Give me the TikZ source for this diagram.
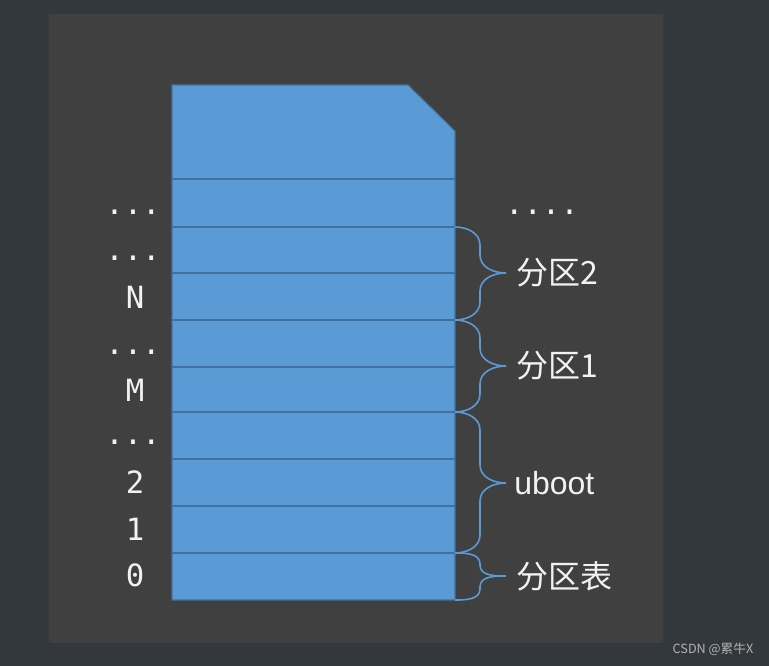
\documentclass[tikz,border=0pt]{standalone}
\usepackage{fontspec}
\setmainfont{Liberation Sans}
\newfontfamily\cjk{Noto Sans CJK SC}
\newfontfamily\mono{DejaVu Sans Mono}
\definecolor{outerbg}{HTML}{33383C}
\definecolor{panelbg}{HTML}{404040}
\definecolor{cardblue}{HTML}{5B9BD5}
\definecolor{rowline}{HTML}{41719C}
\definecolor{labelwhite}{HTML}{F2F2F2}
\tikzset{
  card/.style={fill=cardblue, draw=rowline, line width=0.8pt},
  rowsep/.style={draw=rowline, line width=0.8pt},
  partbrace/.style={draw=cardblue, line width=1.2pt},
  addr/.style={anchor=base, text=labelwhite, font=\mono\fontsize{23}{26}\selectfont},
  part/.style={anchor=west, text=labelwhite, font=\cjk\fontsize{24}{27}\selectfont, inner sep=0pt}
}
\begin{document}
\begin{tikzpicture}[x=0.75pt, y=-0.75pt]
    % Background
    \fill[outerbg] (0,0) rectangle (769,666);
    \fill[panelbg] (49,14) rectangle (663,643);
    \useasboundingbox (0,0) rectangle (769,666);
    % Card
    \draw[card] (172,85) -- (408,85) -- (455,131) -- (455,600) -- (172,600) -- cycle;
    \foreach \y in {179,227,273,320,367,412,459,506,553}
        \draw[rowsep] (172,\y) -- (455,\y);
    % Block numbers
    \node[addr] (dotsa) at (133,215) {...};
    \node[addr] (dotsb) at (133,261) {...};
    \node[addr] (blkn) at (135,309) {N};
    \node[addr] (dotsc) at (133,355) {...};
    \node[addr] (blkm) at (135,402) {M};
    \node[addr] (dotsd) at (133,445) {...};
    \node[addr] (blktwo) at (135,494) {2};
    \node[addr] (blkone) at (135,541) {1};
    \node[addr] (blkzero) at (135,587) {0};
    % Parts
    \node[addr] (dotsright) at (542,215) {....};
    \node[part] (parttwo) at (516,273) {分区2};
    \node[part] (partone) at (516,366) {分区1};
    \node[part, font=\fontsize{24}{27}\selectfont] (uboot) at (514,483) {uboot};
    \node[part] (table) at (516,576) {分区表};
    % Braces
    \foreach \t/\m/\b/\r in {227/273/320/18, 320/366/412/18, 412/483/553/18, 553/576/600/11}
        \draw[partbrace] (455,\t) to[out=0,in=90] (480,\t+\r) -- (480,\m-\r)
            to[out=-90,in=180] (506,\m) to[out=180,in=90] (480,\m+\r)
            -- (480,\b-\r) to[out=-90,in=0] (455,\b);
    % Watermark
    \node[anchor=east, text=black!30, font=\cjk\fontsize{9.5}{11}\selectfont] (mark) at (758,649) {CSDN @累牛X};
\end{tikzpicture}
\end{document}
